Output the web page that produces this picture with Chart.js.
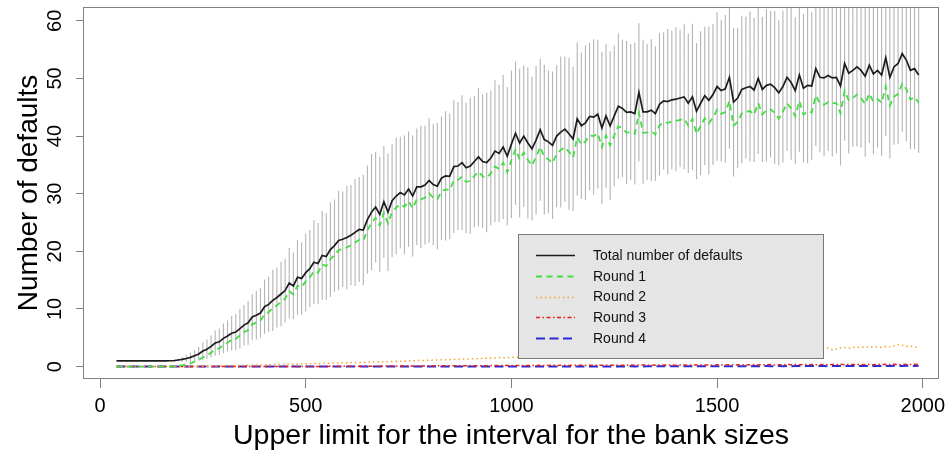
<!DOCTYPE html>
<html><head><meta charset="utf-8">
<script src="https://cdn.jsdelivr.net/npm/chart.js@4.4.1/dist/chart.umd.min.js"></script>
<style>html,body{margin:0;padding:0;background:#fff;}#wrap{width:949px;height:454px;}</style>
</head><body><div id="wrap"><canvas id="c" width="949" height="454"></canvas></div>
<script>
const xValues = [
40,50,60,70,80,90,100,110,120,130,
140,150,160,170,180,190,200,210,220,230,
240,250,260,270,280,290,300,310,320,330,
340,350,360,370,380,390,400,410,420,430,
440,450,460,470,480,490,500,510,520,530,
540,550,560,570,580,590,600,610,620,630,
640,650,660,670,680,690,700,710,720,730,
740,750,760,770,780,790,800,810,820,830,
840,850,860,870,880,890,900,910,920,930,
940,950,960,970,980,990,1000,1010,1020,1030,
1040,1050,1060,1070,1080,1090,1100,1110,1120,1130,
1140,1150,1160,1170,1180,1190,1200,1210,1220,1230,
1240,1250,1260,1270,1280,1290,1300,1310,1320,1330,
1340,1350,1360,1370,1380,1390,1400,1410,1420,1430,
1440,1450,1460,1470,1480,1490,1500,1510,1520,1530,
1540,1550,1560,1570,1580,1590,1600,1610,1620,1630,
1640,1650,1660,1670,1680,1690,1700,1710,1720,1730,
1740,1750,1760,1770,1780,1790,1800,1810,1820,1830,
1840,1850,1860,1870,1880,1890,1900,1910,1920,1930,
1940,1950,1960,1970,1980,1990];

const totalDefaults = [
1,1,1,1,1,1,1,1,1,1,
1,1,1,1.02,1.05,1.15,1.25,1.4,1.6,1.9,
2.2,2.7,3.0,3.5,4.1,4.3,4.9,5.3,5.8,6.0,
6.6,7.2,7.6,8.6,8.9,9.3,10.4,10.8,11.5,12.0,
12.6,13.2,14.5,14.0,15.5,15.3,16.3,17.0,18.1,17.9,
19.3,19.1,20.3,21.0,21.9,22.1,22.4,22.8,23.3,23.8,
23.7,25.5,26.8,27.7,26.4,28.6,26.8,28.8,29.6,30.2,
29.8,30.8,29.6,31.2,31.2,31.5,32.3,31.6,31.3,32.7,
33.1,33.0,34.7,34.8,35.4,34.5,34.8,35.6,36.4,35.6,
35.4,36.2,37.4,37.0,38.1,36.5,38.6,40.5,38.8,40.0,
38.8,37.8,39.3,41.1,39.4,39.0,38.4,40.0,40.7,41.2,
40.4,39.5,43.0,41.8,42.3,43.4,43.3,43.8,41.4,43.5,
41.8,43.5,45.2,44.8,44.1,44.2,43.9,47.6,44.2,44.2,
44.5,43.9,45.5,46.1,46.0,46.3,46.4,46.6,46.8,45.7,
46.8,44.3,45.7,47.0,46.2,47.2,48.6,47.9,48.2,50.2,
45.9,46.6,48.1,48.4,48.6,48.0,50.0,48.1,48.8,49.0,
48.4,47.5,48.6,50.2,49.3,47.9,50.6,48.3,48.8,48.7,
51.7,50.2,50.1,50.5,50.1,50.2,48.7,52.6,50.9,51.4,
52.0,51.4,50.4,52.3,50.8,51.4,50.6,53.6,50.2,52.0,
52.6,54.3,53.2,51.4,51.7,50.6];

const round1 = [
0,0,0,0,0,0,0,0,0,0,
0,0,0,0.02,0.05,0.15,0.25,0.38,0.57,0.85,
1.14,1.63,1.91,2.4,2.98,3.17,3.75,4.14,4.62,4.81,
5.39,5.98,6.36,7.34,7.63,8.01,9.09,9.46,10.15,10.63,
11.2,11.79,13.07,12.55,14.03,13.81,14.79,15.47,16.54,16.32,
17.7,17.48,18.65,19.34,20.22,20.39,20.67,21.05,21.53,22.0,
21.88,23.66,24.93,25.81,24.49,26.66,24.84,26.81,27.58,28.16,
27.73,28.7,27.48,29.05,29.02,29.3,30.08,29.34,29.02,30.4,
30.76,30.64,32.31,32.38,32.95,32.03,32.29,33.07,33.84,33.01,
32.78,33.56,34.72,34.3,35.37,33.74,35.81,37.68,35.95,37.13,
35.89,34.87,36.36,38.11,36.4,35.96,35.33,36.93,37.59,38.05,
37.26,36.31,39.81,38.55,39.06,40.12,40.01,40.46,38.08,40.1,
38.4,40.1,41.72,41.34,40.61,40.65,40.39,44.03,40.61,40.6,
40.83,40.28,41.82,42.38,42.29,42.53,42.65,42.81,42.99,41.83,
42.97,40.4,41.75,43.08,42.23,43.22,44.57,43.86,44.16,46.11,
41.8,42.45,43.92,44.23,44.35,43.73,45.73,43.77,44.45,44.67,
44.03,43.04,44.22,45.69,44.83,43.45,46.08,43.72,44.32,44.1,
47.05,45.69,45.43,45.87,45.73,45.7,43.96,47.86,46.23,46.59,
47.2,46.54,45.57,47.38,45.96,46.46,45.78,48.6,45.28,46.84,
47.29,49.09,48.18,46.32,46.78,45.8];

const round2 = [
0,0,0,0,0,0,0,0,0,0,
0,0,0,0,0,0,0,0.02,0.03,0.05,
0.06,0.07,0.09,0.1,0.12,0.13,0.15,0.16,0.18,0.19,
0.21,0.22,0.24,0.26,0.27,0.29,0.31,0.33,0.34,0.36,
0.38,0.39,0.41,0.43,0.44,0.46,0.48,0.5,0.52,0.54,
0.56,0.58,0.6,0.61,0.63,0.65,0.67,0.69,0.71,0.73,
0.75,0.77,0.79,0.81,0.83,0.85,0.87,0.9,0.92,0.94,
0.97,0.99,1.01,1.04,1.06,1.08,1.1,1.13,1.15,1.17,
1.2,1.22,1.25,1.27,1.3,1.32,1.35,1.37,1.4,1.42,
1.45,1.47,1.5,1.52,1.55,1.57,1.6,1.62,1.64,1.67,
1.69,1.71,1.73,1.76,1.78,1.8,1.82,1.84,1.86,1.89,
1.91,1.93,1.95,1.97,1.99,2.01,2.03,2.05,2.07,2.1,
2.12,2.14,2.16,2.18,2.2,2.22,2.24,2.26,2.28,2.3,
2.32,2.34,2.36,2.38,2.4,2.42,2.44,2.46,2.48,2.5,
2.52,2.55,2.57,2.59,2.61,2.63,2.65,2.67,2.7,2.68,
2.74,2.78,2.76,2.82,2.85,2.83,2.9,2.92,2.95,2.9,
3.0,3.02,2.98,3.05,3.08,3.0,3.1,3.12,3.08,3.15,
3.2,3.1,3.18,3.22,2.9,3.05,3.25,3.3,3.2,3.35,
3.3,3.4,3.35,3.45,3.38,3.42,3.35,3.5,3.45,3.6,
3.85,3.7,3.5,3.6,3.4,3.3];

const round3 = [
0,0,0,0,0,0,0,0,0,0,
0,0,0,0,0,0,0,0,0,0,
0,0,0,0,0,0,0,0,0,0,
0,0,0,0,0,0,0,0.01,0.01,0.01,
0.02,0.02,0.02,0.02,0.03,0.03,0.03,0.03,0.04,0.04,
0.04,0.04,0.05,0.05,0.05,0.06,0.06,0.06,0.06,0.07,
0.07,0.07,0.08,0.08,0.08,0.09,0.09,0.09,0.1,0.1,
0.1,0.11,0.11,0.11,0.12,0.12,0.12,0.13,0.13,0.13,
0.14,0.14,0.14,0.15,0.15,0.15,0.16,0.16,0.16,0.17,
0.17,0.17,0.18,0.18,0.18,0.19,0.19,0.19,0.2,0.18,
0.21,0.2,0.19,0.22,0.2,0.21,0.23,0.21,0.22,0.24,
0.2,0.23,0.22,0.25,0.21,0.24,0.23,0.25,0.22,0.26,
0.24,0.23,0.27,0.24,0.25,0.28,0.23,0.26,0.27,0.25,
0.29,0.24,0.27,0.28,0.26,0.3,0.25,0.28,0.27,0.3,
0.26,0.29,0.31,0.27,0.3,0.28,0.32,0.3,0.28,0.33,
0.29,0.31,0.34,0.28,0.32,0.35,0.3,0.33,0.31,0.36,
0.29,0.34,0.32,0.37,0.31,0.35,0.33,0.38,0.3,0.36,
0.34,0.32,0.39,0.33,0.36,0.35,0.4,0.32,0.37,0.35,
0.41,0.34,0.38,0.36,0.33,0.42,0.35,0.39,0.37,0.43,
0.34,0.4,0.38,0.36,0.41,0.37];

const round4 = [
0,0,0,0,0,0,0,0,0,0,
0,0,0,0,0,0,0,0,0,0,
0,0,0,0,0,0,0,0,0,0,
0,0,0,0,0,0,0,0,0,0,
0,0,0,0,0,0,0,0,0,0,
0,0,0,0,0,0,0,0,0,0,
0,0,0,0,0,0,0,0,0,0,
0,0,0,0,0,0,0,0,0,0,
0,0,0,0,0,0,0,0,0,0,
0,0,0,0,0,0,0,0.01,0.01,0.02,
0.01,0.02,0.02,0.01,0.02,0.03,0.02,0.02,0.03,0.02,
0.03,0.03,0.02,0.03,0.04,0.03,0.03,0.04,0.03,0.04,
0.04,0.03,0.05,0.04,0.04,0.05,0.04,0.05,0.04,0.05,
0.06,0.04,0.05,0.06,0.05,0.05,0.06,0.05,0.06,0.07,
0.05,0.06,0.07,0.06,0.06,0.07,0.06,0.07,0.06,0.08,
0.07,0.06,0.08,0.07,0.08,0.09,0.07,0.08,0.09,0.07,
0.08,0.1,0.08,0.09,0.08,0.1,0.09,0.08,0.1,0.09,
0.11,0.09,0.1,0.08,0.11,0.1,0.09,0.12,0.1,0.11,
0.09,0.12,0.1,0.11,0.13,0.1,0.12,0.11,0.1,0.13,
0.12,0.11,0.14,0.12,0.11,0.13];

// standard deviation of the total (vertical error bars: mean +/- sd)
const totalSd = [
0,0,0,0,0,0,0,0,0,0,
0,0,0,0,0,0.2,0.4,0.6,0.8,1.0,
1.2,1.5,1.7,1.9,2.2,2.3,2.6,2.7,3.0,3.1,
3.4,3.5,3.8,4.0,4.2,4.3,4.7,4.8,5.3,5.2,
5.6,5.5,6.1,5.8,6.5,6.3,6.8,6.7,7.3,7.0,
7.7,7.5,8.2,8.0,8.6,8.3,9.0,8.7,9.3,9.1,
9.6,9.4,10.1,9.6,10.0,9.7,10.2,9.8,10.1,9.7,
10.3,10.0,10.5,10.1,10.6,10.3,10.8,10.5,11.0,10.7,
11.2,10.9,11.5,11.1,11.7,11.3,11.8,11.4,12.0,11.6,
12.1,11.7,12.3,11.9,12.5,12.0,12.8,12.4,12.9,12.3,
13.1,12.5,12.9,12.3,13.0,12.4,12.8,12.3,13.1,12.6,
13.2,12.5,13.3,12.7,13.4,12.8,13.5,12.9,13.2,12.5,
12.9,12.2,12.6,11.9,12.4,11.8,12.3,12.0,12.5,11.8,
12.3,11.7,12.4,11.9,12.6,12.0,12.5,11.9,12.6,12.1,
12.7,11.8,12.5,12.0,12.8,12.2,12.9,12.3,12.8,12.4,
12.9,12.2,12.8,12.3,13.0,12.5,13.1,12.6,13.2,12.7,
13.3,12.6,13.2,12.8,13.4,12.7,13.3,12.9,13.5,12.8,
13.4,13.0,13.6,13.1,13.7,13.2,13.8,13.4,13.9,13.3,
13.8,13.4,14.0,13.5,13.9,13.4,14.0,13.6,14.1,13.5,
14.0,13.6,14.1,13.7,14.0,13.5];

const xTickValues = [0, 500, 1000, 1500, 2000];
const yTickValues = [0, 10, 20, 30, 40, 50, 60];
const seriesLabels = ['Total number of defaults', 'Round 1', 'Round 2', 'Round 3', 'Round 4'];
const xTitle = 'Upper limit for the interval for the bank sizes';
const yTitle = 'Number of defaults';

const pts = arr => xValues.map((x, i) => ({x: x, y: arr[i]}));
const errPts = [];
xValues.forEach((x, i) => {
  errPts.push({x: x, y: totalDefaults[i] - totalSd[i]});
  errPts.push({x: x, y: totalDefaults[i] + totalSd[i]});
  errPts.push({x: x, y: null});
});

const FONT = '"Liberation Sans", Arial, Helvetica, sans-serif';
Chart.defaults.font.family = FONT;
Chart.defaults.color = '#000';

const lineDs = (label, arr, color, width, dash, order) => ({
  type: 'line', label: label, data: pts(arr), borderColor: color, borderWidth: width,
  borderDash: dash, pointRadius: 0, tension: 0, fill: false, order: order
});

const boxPlugin = {
  id: 'plotBox',
  afterDatasetsDraw(chart) {
    const a = chart.chartArea, ctx = chart.ctx;
    ctx.save();
    ctx.strokeStyle = '#808080'; ctx.lineWidth = 1;
    ctx.strokeRect(Math.round(a.left) - 0.5, Math.round(a.top) + 0.5,
                   Math.round(a.right - a.left) + 1, Math.round(a.bottom - a.top) - 1);
    ctx.restore();
  }
};

const legendPlugin = {
  id: 'insetLegend',
  afterDatasetsDraw(chart) {
    const ctx = chart.ctx;
    const L = 518, T = 234, W = 305, H = 124;
    ctx.save();
    ctx.fillStyle = '#e5e5e5';
    ctx.fillRect(L, T, W, H);
    ctx.strokeStyle = '#7a7a7a'; ctx.lineWidth = 1;
    ctx.strokeRect(L + 0.5, T + 0.5, W, H);
    const items = chart.data.datasets.filter(d => !d.isErrorBar);
    items.forEach((d, i) => {
      const y = 255 + i * 20.8;
      ctx.strokeStyle = d.borderColor;
      ctx.lineWidth = d.borderWidth;
      ctx.setLineDash(d.borderDash || []);
      ctx.beginPath();
      ctx.moveTo(536, Math.round(y) + 0.5);
      ctx.lineTo(575, Math.round(y) + 0.5);
      ctx.stroke();
      ctx.setLineDash([]);
      ctx.fillStyle = '#111';
      ctx.font = '14px ' + FONT;
      ctx.textBaseline = 'middle';
      ctx.textAlign = 'left';
      ctx.fillText(d.label, 593, y + 1);
    });
    ctx.restore();
  }
};

new Chart(document.getElementById('c'), {
  type: 'line',
  data: {
    datasets: [
      lineDs(seriesLabels[0], totalDefaults, '#1c1c1c', 1.7, [], 1),
      lineDs(seriesLabels[1], round1, '#44dd44', 1.8, [6, 4.5], 2),
      lineDs(seriesLabels[2], round2, '#f2a52c', 1.5, [1.5, 3], 3),
      lineDs(seriesLabels[3], round3, '#e52222', 1.5, [4, 2.5, 1.5, 2.5], 4),
      lineDs(seriesLabels[4], round4, '#2a2ad8', 2, [9, 4.5], 5),
      { type: 'line', label: 'sd', isErrorBar: true, data: errPts, borderColor: '#b4b4b4',
        borderWidth: 1.1, pointRadius: 0, spanGaps: false, tension: 0, fill: false, order: 10 }
    ]
  },
  options: {
    responsive: false,
    devicePixelRatio: 1,
    animation: false,
    parsing: true,
    layout: { padding: { left: 0, right: 11, top: 7, bottom: 0 } },
    plugins: { legend: { display: false }, tooltip: { enabled: false } },
    scales: {
      x: {
        type: 'linear', min: -38.9, max: 2037, bounds: 'data',
        afterBuildTicks: s => { s.ticks = xTickValues.map(v => ({value: v})); },
        afterFit: s => { s.height = 75; s.paddingLeft = 0; s.paddingRight = 0; },
        ticks: { autoSkip: false, maxRotation: 0, minRotation: 0, padding: 6,
                 font: { size: 20 }, color: '#000', callback: v => String(v) },
        grid: { drawOnChartArea: false, drawTicks: true, tickLength: 9, color: '#808080' },
        border: { display: false },
        title: { display: true, text: xTitle, font: { size: 28.5 }, color: '#000',
                 padding: { top: 0, bottom: 1 } }
      },
      y: {
        type: 'linear', min: -2.15, max: 62.4, bounds: 'data',
        afterBuildTicks: s => { s.ticks = yTickValues.map(v => ({value: v})); },
        afterFit: s => { s.width = 84; s.paddingTop = 0; s.paddingBottom = 0; },
        ticks: { autoSkip: false, minRotation: 90, maxRotation: 90, crossAlign: 'center',
                 padding: 9, font: { size: 20 }, color: '#000', callback: v => String(v) },
        grid: { drawOnChartArea: false, drawTicks: true, tickLength: 8, color: '#808080' },
        border: { display: false },
        title: { display: true, text: yTitle, font: { size: 28 }, color: '#000',
                 padding: { top: 12.5, bottom: 0 } }
      }
    }
  },
  plugins: [boxPlugin, legendPlugin]
});
</script>
</body></html>
